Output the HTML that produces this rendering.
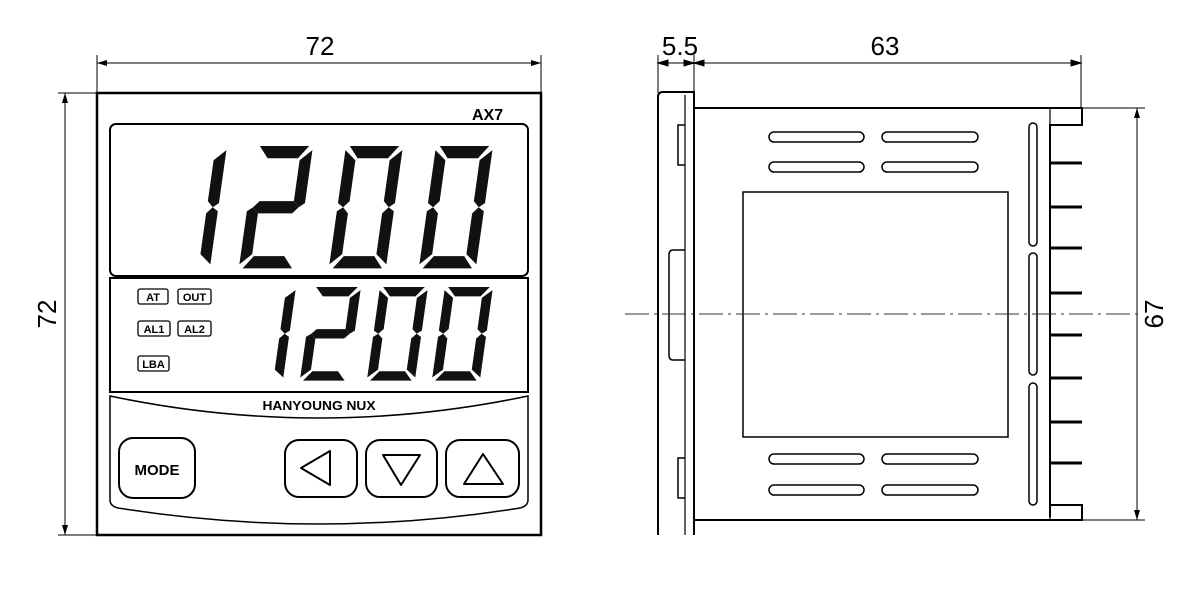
<!DOCTYPE html>
<html><head><meta charset="utf-8"><style>
html,body{margin:0;padding:0;background:#fff;}
svg{display:block;}
text{font-family:"Liberation Sans",sans-serif;}
</style></head><body>
<svg width="1200" height="616" viewBox="0 0 1200 616" xmlns="http://www.w3.org/2000/svg">
<defs>
<g id="sa"><polygon points="4,0 56,0 46,12 14,12"/></g>
<g id="sb"><polygon points="60,4 60,56 54,60 48,54 48,14"/></g>
<g id="sc"><polygon points="60,64 60,116 48,106 48,66 54,60"/></g>
<g id="sd"><polygon points="14,108 46,108 56,120 4,120"/></g>
<g id="se"><polygon points="0,64 6,60 12,66 12,106 0,116"/></g>
<g id="sf"><polygon points="0,4 12,14 12,54 6,60 0,56"/></g>
<g id="sg"><polygon points="6,60 12,54 48,54 54,60 48,66 12,66"/></g>
<g id="d0"><use href="#sa"/><use href="#sb"/><use href="#sc"/><use href="#sd"/><use href="#se"/><use href="#sf"/></g>
<g id="d1"><use href="#sb"/><use href="#sc"/></g>
<g id="d2"><use href="#sa"/><use href="#sb"/><use href="#sg"/><use href="#se"/><use href="#sd"/></g>
<marker id="ar" viewBox="0 0 10 6" refX="10" refY="3" markerWidth="10" markerHeight="6" orient="auto-start-reverse" markerUnits="userSpaceOnUse"><path d="M0,0 L10,3 L0,6 z" fill="#000"/></marker>
</defs>

<!-- LEFT VIEW dims -->
<g stroke="#000" stroke-width="1" fill="none">
<line x1="97" y1="55" x2="97" y2="93"/>
<line x1="541" y1="55" x2="541" y2="93"/>
<line x1="97" y1="63" x2="541" y2="63" marker-start="url(#ar)" marker-end="url(#ar)"/>
<line x1="58" y1="93" x2="97" y2="93"/>
<line x1="58" y1="535" x2="97" y2="535"/>
<line x1="65" y1="93" x2="65" y2="535" marker-start="url(#ar)" marker-end="url(#ar)"/>
</g>
<text x="320" y="55" font-size="26" text-anchor="middle">72</text>
<text transform="translate(56,314) rotate(-90)" font-size="26" text-anchor="middle">72</text>

<!-- front panel -->
<g stroke="#000" fill="none">
<rect x="97" y="93" width="444" height="442" stroke-width="2.5"/>
<rect x="110" y="124" width="418" height="152" rx="6" stroke-width="2"/>
<rect x="110" y="278" width="418" height="114" stroke-width="2"/>
<path d="M110,396 Q319,440 528,396 L528,500 Q528,506 520,508 Q319,540 118,508 Q110,506 110,500 Z" stroke-width="1.5"/>
<rect x="119" y="438" width="76" height="60" rx="14" stroke-width="2"/>
<rect x="285" y="440" width="72" height="57" rx="14" stroke-width="2"/>
<rect x="366" y="440" width="71" height="57" rx="14" stroke-width="2"/>
<rect x="446" y="440" width="73" height="57" rx="14" stroke-width="2"/>
<polygon points="301,468 330,451 330,485" stroke-width="2" stroke-linejoin="round"/>
<polygon points="383,455 420,455 401,485" stroke-width="2" stroke-linejoin="round"/>
<polygon points="464,484 503,484 483,454" stroke-width="2" stroke-linejoin="round"/>
</g>
<text x="472" y="120" font-size="16" font-weight="bold">AX7</text>
<text x="157" y="475" font-size="15" font-weight="bold" text-anchor="middle">MODE</text>
<text x="319" y="410" font-size="13" font-weight="bold" text-anchor="middle" textLength="113" lengthAdjust="spacingAndGlyphs">HANYOUNG NUX</text>

<!-- indicators -->
<g stroke="#000" stroke-width="1.3" fill="none">
<rect x="138" y="289" width="30" height="15" rx="2"/>
<rect x="178" y="289" width="33" height="15" rx="2"/>
<rect x="138" y="321" width="32" height="15" rx="2"/>
<rect x="178" y="321" width="33" height="15" rx="2"/>
<rect x="138" y="356" width="31" height="15" rx="2"/>
</g>
<g font-size="11" font-weight="bold" text-anchor="middle">
<text x="153" y="301">AT</text><text x="194.5" y="301">OUT</text>
<text x="154" y="333">AL1</text><text x="194.5" y="333">AL2</text>
<text x="153.5" y="368">LBA</text>
</g>

<!-- big digits -->
<g fill="#111">
<use href="#d1" transform="translate(170,146) skewX(-8) scale(0.95,1.02)"/>
<use href="#d2" transform="translate(256,146) skewX(-8) scale(0.95,1.02)"/>
<use href="#d0" transform="translate(346,146) skewX(-8) scale(0.95,1.02)"/>
<use href="#d0" transform="translate(436,146) skewX(-8) scale(0.95,1.02)"/>
<use href="#d1" transform="translate(248,287) skewX(-8) scale(0.8,0.78)"/>
<use href="#d2" transform="translate(313,287) skewX(-8) scale(0.8,0.78)"/>
<use href="#d0" transform="translate(380,287) skewX(-8) scale(0.8,0.78)"/>
<use href="#d0" transform="translate(445,287) skewX(-8) scale(0.8,0.78)"/>
</g>

<!-- RIGHT VIEW dims -->
<g stroke="#000" stroke-width="1" fill="none">
<line x1="658" y1="55" x2="658" y2="93"/>
<line x1="694" y1="55" x2="694" y2="93"/>
<line x1="1081" y1="55" x2="1081" y2="108"/>
<line x1="658" y1="63" x2="1081" y2="63"/>
<path d="M658,63 l10,-3 v6 z M694,63 l-10,-3 v6 z M694,63 l10,-3 v6 z M1081,63 l-10,-3 v6 z" fill="#000"/>
<line x1="1082" y1="108" x2="1145" y2="108"/>
<line x1="1082" y1="520" x2="1145" y2="520"/>
<line x1="1137" y1="108" x2="1137" y2="520" marker-start="url(#ar)" marker-end="url(#ar)"/>
</g>
<text x="680" y="55" font-size="26" text-anchor="middle">5.5</text>
<text x="885" y="55" font-size="26" text-anchor="middle">63</text>
<text transform="translate(1163,314) rotate(-90)" font-size="26" text-anchor="middle">67</text>

<g stroke="#000" fill="none" stroke-width="2">
<path d="M658,535 L658,97 Q658,92 663,92 L694,92 L694,535"/>
<line x1="685" y1="95" x2="685" y2="535" stroke-width="1.2"/>
<path d="M685,125 h-7 v40 h7 M685,250 h-12 q-4,0 -4,5 v100 q0,5 4,5 h12 M685,458 h-7 v40 h7" stroke-width="1.5"/>
<path d="M694,108 H1082 V125 H1050 V517 M694,520 H1082 V505 H1050"/>
<line x1="1050" y1="108" x2="1050" y2="520" stroke-width="1.2"/>
<rect x="743" y="192" width="265" height="245" stroke-width="1.5"/>
</g>
<g stroke="#000" stroke-width="3" fill="none">
<line x1="1050" y1="163" x2="1082" y2="163"/>
<line x1="1050" y1="207" x2="1082" y2="207"/>
<line x1="1050" y1="248" x2="1082" y2="248"/>
<line x1="1050" y1="293" x2="1082" y2="293"/>
<line x1="1050" y1="335" x2="1082" y2="335"/>
<line x1="1050" y1="378" x2="1082" y2="378"/>
<line x1="1050" y1="422" x2="1082" y2="422"/>
<line x1="1050" y1="463" x2="1082" y2="463"/>
</g>
<g stroke="#000" stroke-width="1.5" fill="none">
<rect x="769" y="132" width="95" height="10" rx="5"/>
<rect x="882" y="132" width="96" height="10" rx="5"/>
<rect x="769" y="162" width="95" height="10" rx="5"/>
<rect x="882" y="162" width="96" height="10" rx="5"/>
<rect x="769" y="454" width="95" height="10" rx="5"/>
<rect x="882" y="454" width="96" height="10" rx="5"/>
<rect x="769" y="485" width="95" height="10" rx="5"/>
<rect x="882" y="485" width="96" height="10" rx="5"/>
<rect x="1029" y="123" width="8" height="123" rx="4"/>
<rect x="1029" y="253" width="8" height="122" rx="4"/>
<rect x="1029" y="383" width="8" height="122" rx="4"/>
</g>
<line x1="625" y1="314" x2="1140" y2="314" stroke="#333" stroke-width="1" stroke-dasharray="24,5,3,5"/>
</svg>
</body></html>
